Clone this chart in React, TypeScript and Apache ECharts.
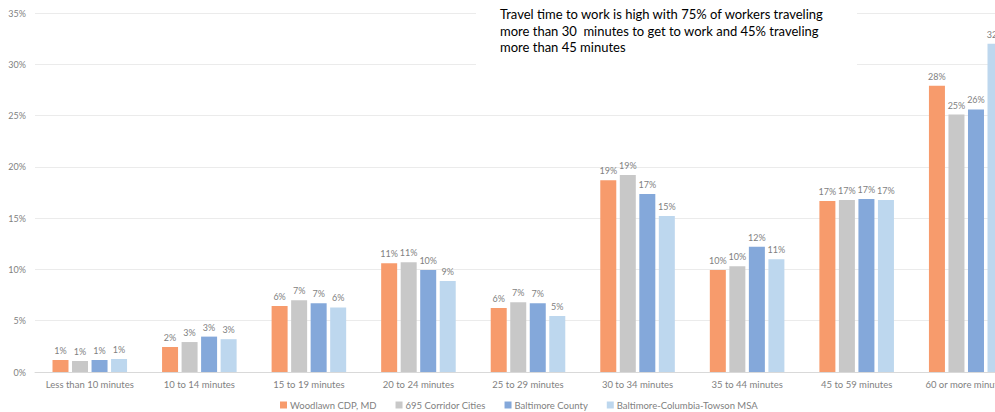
import React, { useEffect, useRef } from "react";
import * as echarts from "echarts";

const categories = [
  "Less than 10 minutes",
  "10 to 14 minutes",
  "15 to 19 minutes",
  "20 to 24 minutes",
  "25 to 29 minutes",
  "30 to 34 minutes",
  "35 to 44 minutes",
  "45 to 59 minutes",
  "60 or more minutes",
];
const seriesNames = [
  "Woodlawn CDP, MD",
  "695 Corridor Cities",
  "Baltimore County",
  "Baltimore-Columbia-Towson MSA",
];
const woodlawn = [1.17, 2.44, 6.43, 10.6, 6.24, 18.7, 9.94, 16.67, 27.9];
const corridor = [1.07, 2.92, 7.0, 10.7, 6.8, 19.2, 10.3, 16.76, 25.1];
const county = [1.17, 3.45, 6.7, 9.94, 6.7, 17.35, 12.2, 16.86, 25.6];
const msa = [1.27, 3.2, 6.3, 8.87, 5.45, 15.2, 11.0, 16.76, 32.0];
const colors = ["#F79B6C", "#C8C8C8", "#84A8DA", "#BDD7EE"];
const yTicks = [0, 5, 10, 15, 20, 25, 30, 35];
const note = [
  "Travel time to work is high with 75% of workers traveling",
  "more than 30  minutes to get to work and 45% traveling",
  "more than 45 minutes",
];

const FONT = "Lato, 'Open Sans', sans-serif";

export default function App() {
  const ref = useRef<HTMLDivElement>(null);
  useEffect(() => {
    if (!ref.current) return;
    const chart = echarts.init(ref.current, null, { renderer: "svg" });
    const data = [woodlawn, corridor, county, msa];
    chart.setOption({
      animation: false,
      textStyle: { fontFamily: FONT },
      grid: { left: 35, right: 9, top: 13, bottom: 40 },
      legend: {
        left: 280,
        top: 400,
        padding: 0,
        itemWidth: 7,
        itemHeight: 7,
        itemGap: 19,
        icon: "rect",
        textStyle: { fontSize: 9.5, color: "#7F7F7F", fontFamily: FONT, padding: [0, 0, 0, -2] },
        data: seriesNames,
      },
      xAxis: {
        type: "category",
        data: categories,
        axisLine: { lineStyle: { color: "#D9D9D9" } },
        axisTick: { show: false },
        axisLabel: { fontSize: 9.5, color: "#7F7F7F", margin: 7, interval: 0 },
      },
      yAxis: {
        type: "value",
        min: yTicks[0],
        max: yTicks[yTicks.length - 1],
        interval: 5,
        axisLabel: { fontSize: 9, color: "#7F7F7F", formatter: "{value}%", margin: 9 },
        splitLine: { lineStyle: { color: "#EBEBEB" } },
        axisLine: { show: false },
        axisTick: { show: false },
      },
      series: seriesNames.map((name, i) => ({
        name,
        type: "bar",
        data: data[i],
        barWidth: 16,
        barGap: "22%",
        itemStyle: { color: colors[i] },
        label: {
          show: true,
          position: "top",
          distance: 5,
          fontSize: 9,
          color: "#7F7F7F",
          formatter: (p: any) => Math.round(p.value) + "%",
        },
      })),
      graphic: [
        {
          type: "rect",
          left: 476,
          top: 0,
          shape: { width: 381, height: 68 },
          style: { fill: "#FFFFFF" },
          z: 100,
        },
        {
          type: "text",
          left: 500,
          top: 6,
          z: 101,
          style: {
            text: note.join("\n"),
            fontSize: 13,
            lineHeight: 16.5,
            fill: "#000000",
            fontFamily: FONT,
          },
        },
      ],
    });
    return () => chart.dispose();
  }, []);
  return (
    <div
      style={{
        position: "fixed",
        left: 0,
        top: 0,
        width: 995,
        height: 412,
        overflow: "hidden",
        background: "#fff",
      }}
    >
      <div ref={ref} style={{ width: 1030, height: 412 }} />
    </div>
  );
}
